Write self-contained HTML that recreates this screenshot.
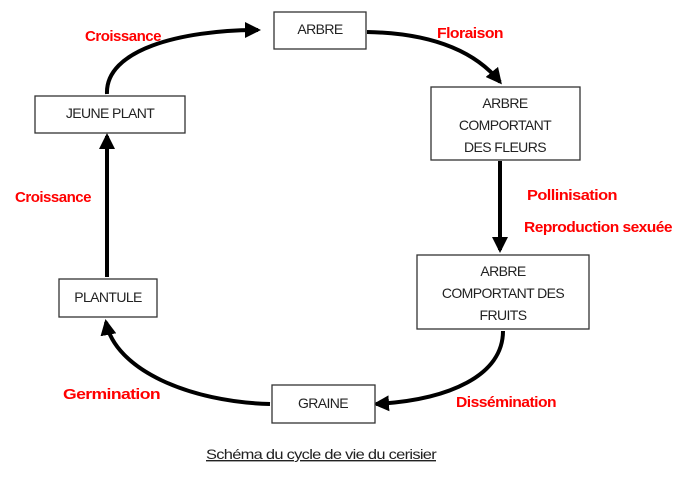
<!DOCTYPE html>
<html><head><meta charset="utf-8"><style>
html,body{margin:0;padding:0;background:#fff;}
svg{display:block;}
.b{fill:#fff;stroke:#333;stroke-width:1.3;}
.t{font-family:"Liberation Sans",sans-serif;font-size:14px;fill:#222;text-anchor:middle;letter-spacing:-0.6px;}
.r{font-family:"Liberation Sans",sans-serif;font-size:14.5px;font-weight:bold;fill:#f00;letter-spacing:-0.5px;}
.a{fill:none;stroke:#000;stroke-width:4;}
</style></head><body>
<svg width="685" height="502" viewBox="0 0 685 502" xmlns="http://www.w3.org/2000/svg">
<defs>
<marker id="m" markerUnits="userSpaceOnUse" markerWidth="16" markerHeight="16" refX="13" refY="8" orient="auto">
<path d="M0,0 L16,8 L0,16 Z" fill="#000"/>
</marker>
</defs>
<path class="a" d="M107,94 C105,50 180,30 258,30" marker-end="url(#m)"/>
<path class="a" d="M367,32 C420,33 470,45 500,82" marker-end="url(#m)"/>
<path class="a" d="M500,161 L500,250" marker-end="url(#m)"/>
<path class="a" d="M503,331 C503,375 450,400 376,404" marker-end="url(#m)"/>
<path class="a" d="M270,404 C190,402 115,370 106,322" marker-end="url(#m)"/>
<path class="a" d="M107,277 L107,136" marker-end="url(#m)"/>
<rect class="b" x="274" y="12" width="92" height="37"/>
<text class="t" x="320" y="34">ARBRE</text>
<rect class="b" x="35" y="96" width="150" height="37"/>
<text class="t" x="110" y="118">JEUNE PLANT</text>
<rect class="b" x="431" y="87" width="149" height="73"/>
<text class="t" x="505" y="108">ARBRE</text>
<text class="t" x="505" y="130">COMPORTANT</text>
<text class="t" x="505" y="152">DES FLEURS</text>
<rect class="b" x="417" y="255" width="172" height="74"/>
<text class="t" x="503" y="276">ARBRE</text>
<text class="t" x="503" y="298">COMPORTANT DES</text>
<text class="t" x="503" y="320">FRUITS</text>
<rect class="b" x="59" y="279" width="98" height="38"/>
<text class="t" x="108" y="302">PLANTULE</text>
<rect class="b" x="272" y="385" width="103" height="38"/>
<text class="t" x="323" y="408">GRAINE</text>
<text class="r" x="85" y="41" textLength="76" lengthAdjust="spacingAndGlyphs">Croissance</text>
<text class="r" x="437" y="38" textLength="66" lengthAdjust="spacingAndGlyphs">Floraison</text>
<text class="r" x="527" y="200" textLength="90" lengthAdjust="spacingAndGlyphs">Pollinisation</text>
<text class="r" x="524" y="232" textLength="148" lengthAdjust="spacingAndGlyphs">Reproduction sexuée</text>
<text class="r" x="15" y="202" textLength="76" lengthAdjust="spacingAndGlyphs">Croissance</text>
<text class="r" x="63" y="399" textLength="97" lengthAdjust="spacingAndGlyphs">Germination</text>
<text class="r" x="456" y="407" textLength="100" lengthAdjust="spacingAndGlyphs">Dissémination</text>
<text class="t" x="206" y="459" style="text-anchor:start;text-decoration:underline;" textLength="230" lengthAdjust="spacingAndGlyphs">Schéma du cycle de vie du cerisier</text>
</svg>
</body></html>
